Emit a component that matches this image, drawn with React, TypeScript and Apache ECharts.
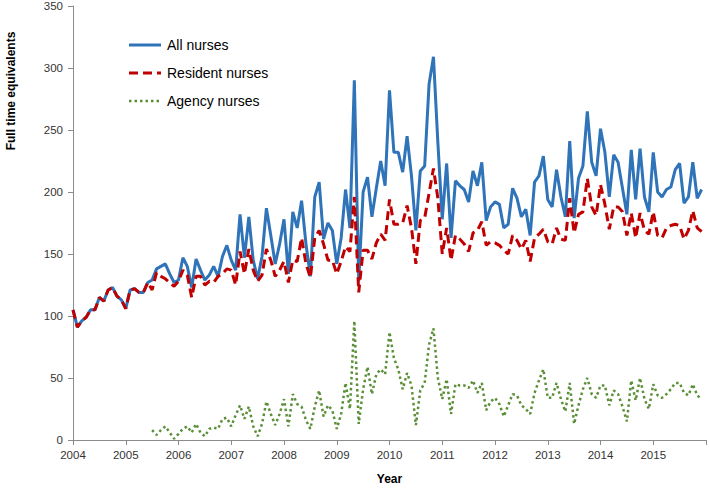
import React, { useEffect, useRef } from "react";
import * as echarts from "echarts";

const startYear = 2004;
const yearTicks = [2004, 2005, 2006, 2007, 2008, 2009, 2010, 2011, 2012, 2013, 2014, 2015];
const seriesNames = ["All nurses", "Resident nurses", "Agency nurses"];

const allNurses = [
  105, 91, 96, 99, 105, 105, 115, 112, 121, 123, 116, 113,
  106, 121, 122, 119, 119, 127, 129, 138, 140, 142, 134, 127,
  129, 147, 140, 123, 146, 137, 129, 133, 140, 132, 148, 157,
  145, 137, 182, 147, 180, 145, 130, 148, 187, 165, 142, 158,
  178, 134, 184, 171, 193, 158, 132, 196, 208, 162, 175, 169,
  142, 163, 202, 171, 290, 128, 200, 212, 180, 203, 225, 205,
  282, 232, 232, 216, 245, 213, 169, 217, 221, 287, 309, 240,
  178, 223, 163, 209, 205, 202, 192, 217, 205, 224, 177, 188,
  192, 190, 171, 174, 203, 195, 180, 186, 165, 208, 213, 229,
  194, 188, 218, 196, 180, 241, 179, 211, 221, 265, 224, 213,
  251, 232, 196, 230, 224, 203, 182, 234, 194, 235, 196, 184,
  232, 200, 196, 202, 204, 218, 223, 191, 196, 224, 195, 202,
];

const residentNurses = [
  105, 91, 96, 99, 105, 105, 115, 112, 121, 123, 116, 113,
  106, 121, 122, 119, 119, 127, 121, 135, 132, 130, 127, 124,
  128, 137, 133, 115, 132, 132, 125, 128, 127, 132, 134, 138,
  137, 125, 152, 134, 154, 137, 128, 133, 154, 145, 132, 137,
  144, 127, 145, 144, 163, 142, 131, 163, 169, 158, 145, 145,
  134, 144, 156, 152, 196, 119, 153, 153, 146, 159, 166, 161,
  194, 174, 174, 175, 189, 171, 142, 177, 179, 199, 219, 195,
  150, 171, 145, 165, 162, 158, 152, 167, 169, 176, 157, 160,
  159, 157, 153, 150, 165, 161, 154, 161, 144, 163, 166, 170,
  160, 158, 171, 162, 161, 195, 167, 182, 184, 211, 188, 181,
  206, 190, 170, 188, 188, 184, 165, 183, 163, 183, 169, 166,
  184, 165, 163, 171, 173, 174, 173, 162, 169, 185, 171, 168,
];

const agencyNurses: (number | null)[] = [
  null, null, null, null, null, null, null, null, null, null, null, null,
  null, null, null, null, null, null, 8, 4, 8, 11, 6, 1,
  5, 9, 11, 6, 13, 6, 3, 9, 10, 9, 17, 18,
  11, 20, 28, 17, 27, 11, 3, 13, 31, 21, 12, 21,
  33, 11, 37, 29, 27, 16, 9, 27, 40, 19, 28, 24,
  9, 21, 46, 25, 96, 13, 41, 59, 37, 53, 57, 53,
  87, 66, 57, 41, 54, 44, 12, 40, 46, 77, 90, 50,
  33, 49, 21, 45, 44, 44, 42, 48, 38, 46, 24, 31,
  34, 29, 19, 28, 37, 36, 28, 25, 21, 38, 48, 57,
  34, 34, 46, 33, 23, 46, 13, 28, 41, 50, 37, 34,
  44, 44, 28, 40, 37, 27, 15, 48, 32, 50, 33, 25,
  45, 36, 34, 37, 41, 46, 46, 38, 36, 45, 36, 33,
];

const toPairs = (arr: (number | null)[]) =>
  arr.map((v, i) => [startYear + i / 12, v]);

const colors = ["#2f73b8", "#c00000", "#5a8f37"];
const widths = [3, 3, 2.5];
const dashes: (number[] | null)[] = [null, [9, 5], [2.5, 3]];

export default function App() {
  const ref = useRef<HTMLDivElement>(null);
  useEffect(() => {
    document.body.style.margin = "0";
    if (!ref.current) return;
    const chart = echarts.init(ref.current, undefined, { renderer: "svg" });
    const font = "Liberation Sans, Arial, sans-serif";
    const legendGraphics: any[] = [];
    seriesNames.forEach((name, i) => {
      const y = 45 + i * 28;
      legendGraphics.push({
        type: "line",
        shape: { x1: 129, y1: y, x2: 161, y2: y },
        style: {
          stroke: colors[i],
          lineWidth: widths[i],
          lineDash: dashes[i] || undefined,
        },
      });
      legendGraphics.push({
        type: "text",
        x: 167,
        y,
        style: {
          text: name,
          fontSize: 14,
          fill: "#000",
          fontFamily: font,
          align: "left",
          verticalAlign: "middle",
        },
      });
    });
    chart.setOption({
      animation: false,
      backgroundColor: "#ffffff",
      textStyle: { fontFamily: font },
      grid: { left: 73, right: 2, top: 5, bottom: 43, containLabel: false },
      xAxis: {
        type: "value",
        min: 2004,
        max: 2016,
        interval: 1,
        splitLine: { show: false },
        axisLine: { lineStyle: { color: "#8c8c8c", width: 1 } },
        axisTick: { show: true, length: 5, lineStyle: { color: "#8c8c8c" } },
        axisLabel: {
          fontSize: 11.5,
          color: "#333",
          margin: 9,
          fontFamily: font,
          formatter: (v: number) => (yearTicks.includes(v) ? String(v) : ""),
        },
        name: "Year",
        nameLocation: "middle",
        nameGap: 33,
        nameTextStyle: { fontSize: 12, fontWeight: "bold", color: "#000", fontFamily: font },
      },
      yAxis: {
        type: "value",
        min: 0,
        max: 350,
        interval: 50,
        splitLine: { show: false },
        axisLine: { show: true, lineStyle: { color: "#8c8c8c", width: 1 } },
        axisTick: { show: true, length: 5, lineStyle: { color: "#8c8c8c" } },
        axisLabel: { fontSize: 11.5, color: "#333", margin: 10, fontFamily: font },
      },
      graphic: [
        {
          type: "text",
          x: 11,
          y: 91,
          rotation: Math.PI / 2,
          style: {
            text: "Full time equivalents",
            fontSize: 12,
            fontWeight: "bold",
            fill: "#000",
            fontFamily: font,
            align: "center",
            verticalAlign: "middle",
          },
        },
        ...legendGraphics,
      ],
      series: [
        {
          name: seriesNames[0],
          type: "line",
          data: toPairs(allNurses),
          showSymbol: false,
          symbol: "none",
          lineStyle: { color: colors[0], width: widths[0] },
          z: 3,
        },
        {
          name: seriesNames[1],
          type: "line",
          data: toPairs(residentNurses),
          showSymbol: false,
          symbol: "none",
          lineStyle: { color: colors[1], width: widths[1], type: dashes[1] },
          z: 4,
        },
        {
          name: seriesNames[2],
          type: "line",
          data: toPairs(agencyNurses),
          showSymbol: false,
          symbol: "none",
          connectNulls: false,
          lineStyle: { color: colors[2], width: widths[2], type: dashes[2] },
          z: 2,
        },
      ],
    });
    return () => chart.dispose();
  }, []);
  return <div ref={ref} style={{ width: 709, height: 490 }} />;
}
